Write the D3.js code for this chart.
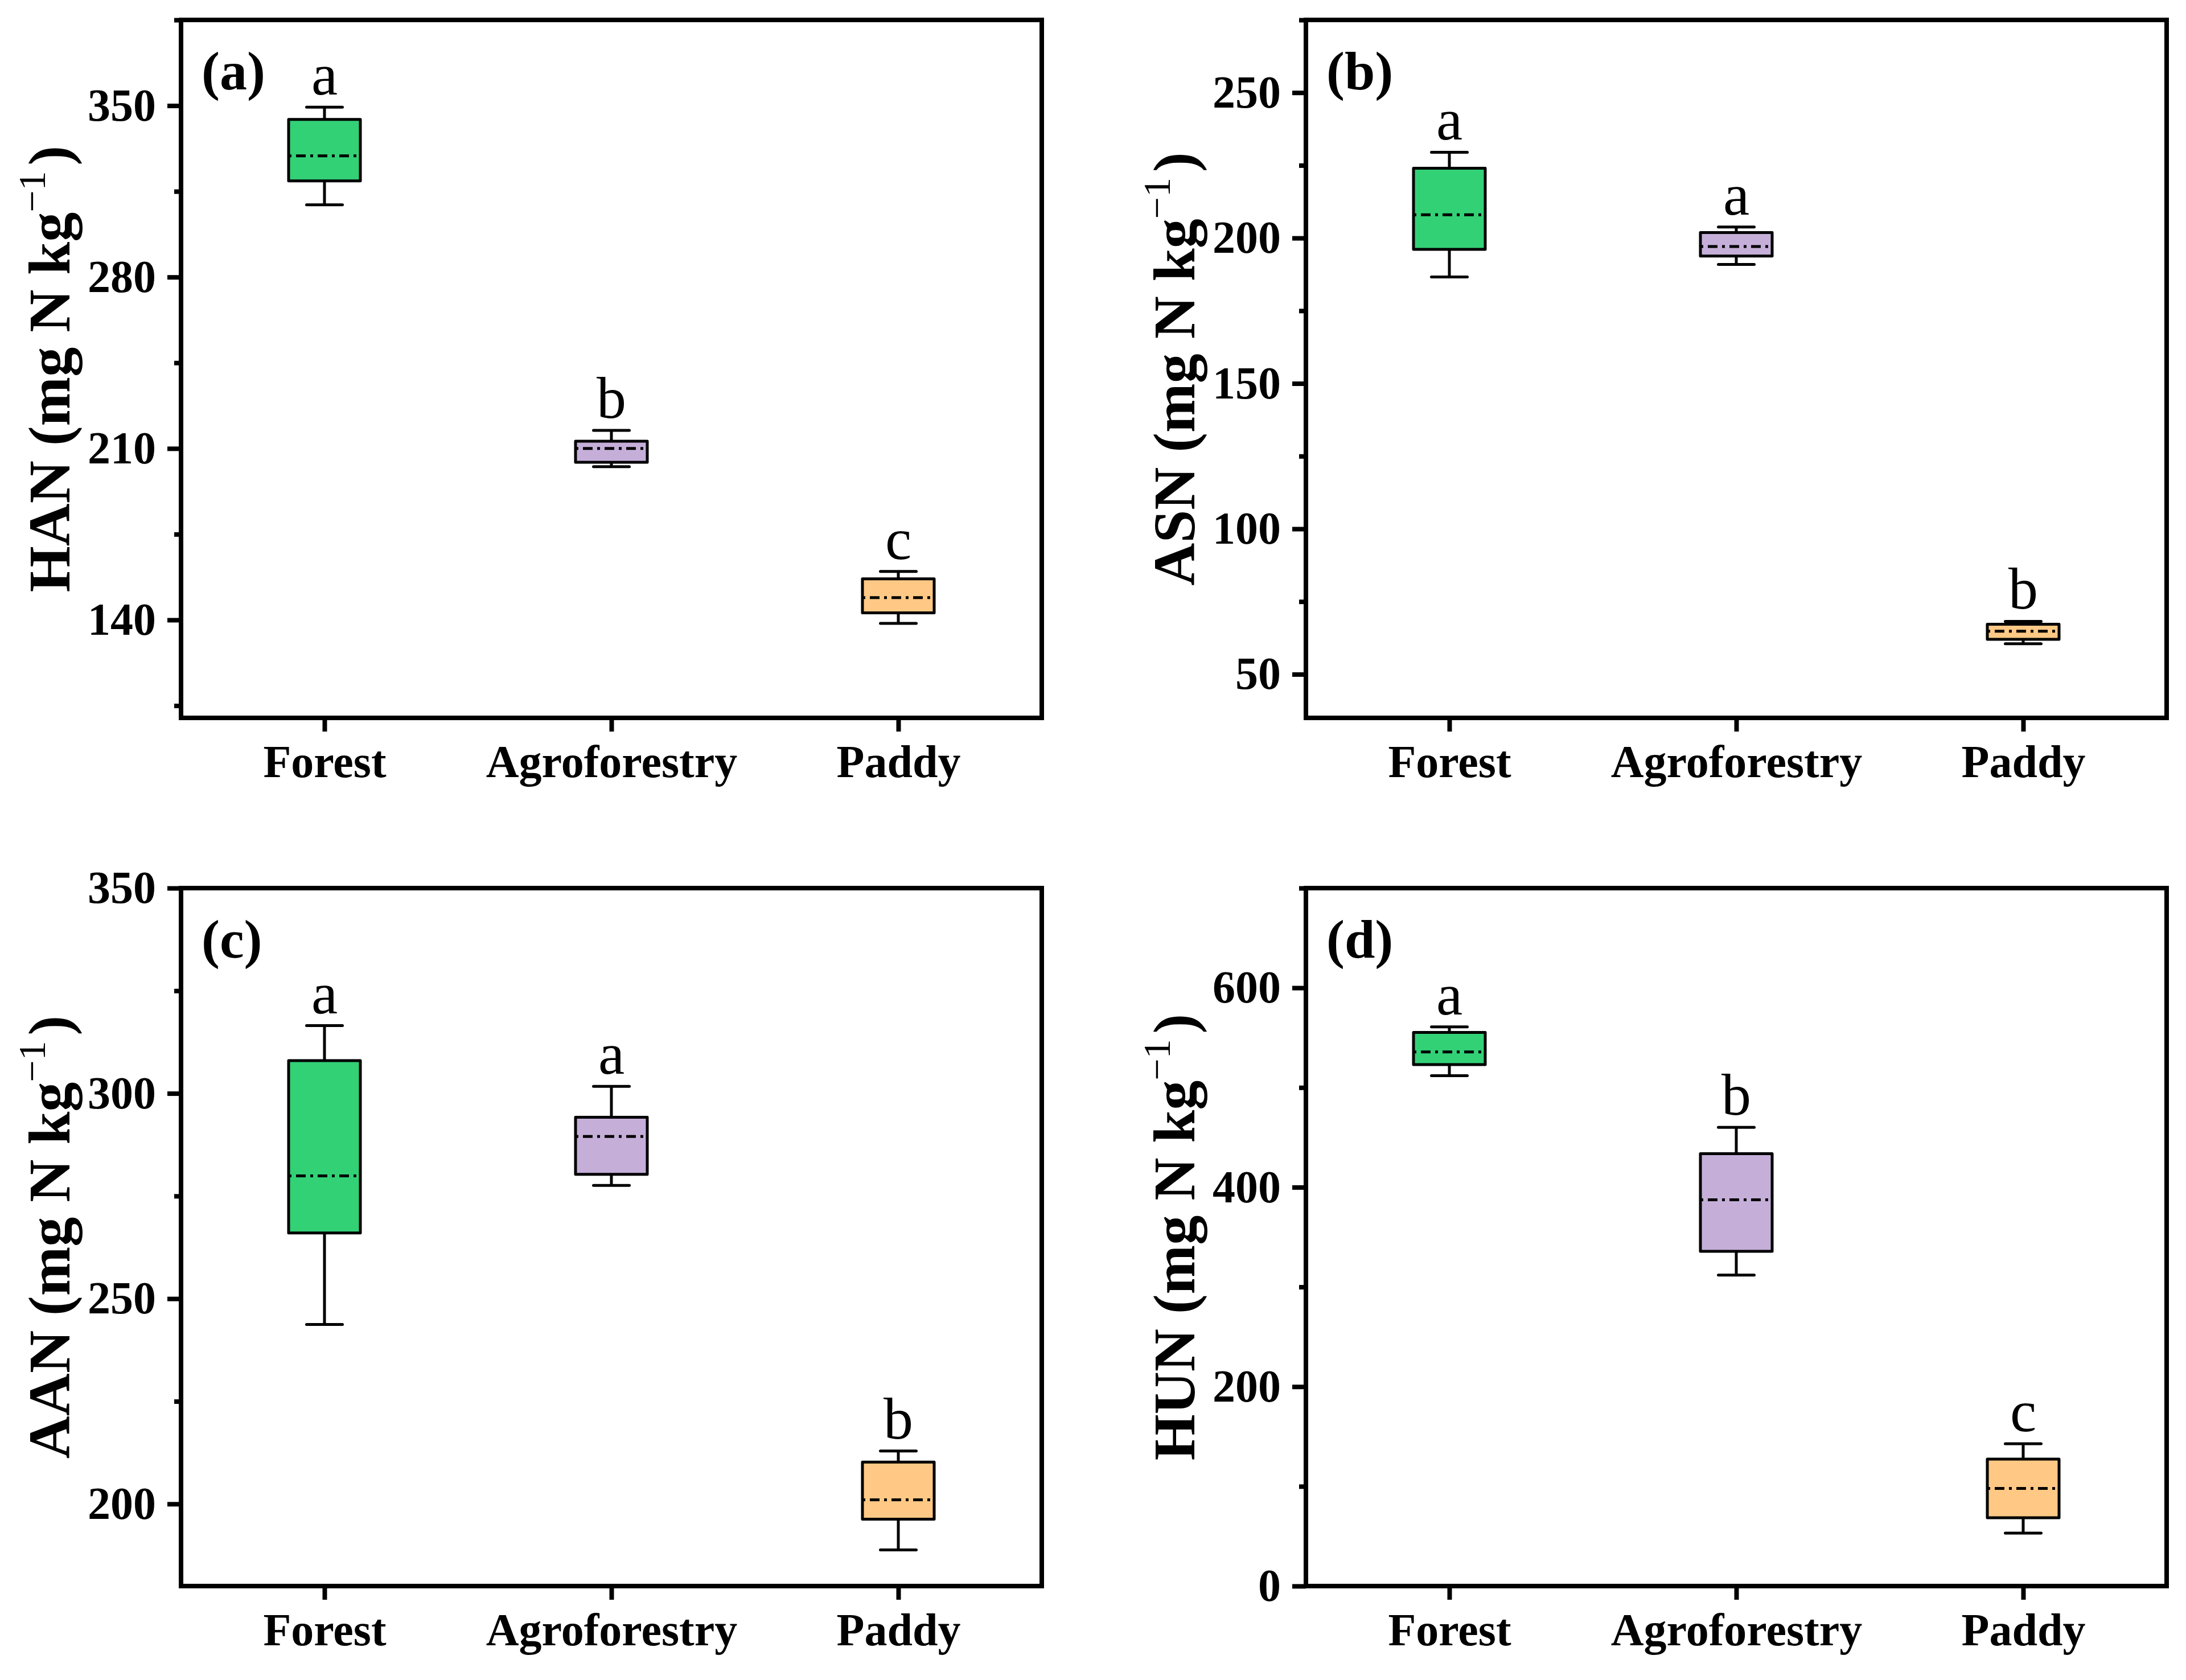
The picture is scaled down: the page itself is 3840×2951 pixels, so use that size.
<!DOCTYPE html>
<html>
<head>
<meta charset="utf-8">
<script src="https://cdn.jsdelivr.net/npm/d3@7"></script>
<style>
  body { margin: 0; background: #fff; }
  svg { display: block; }
  text { font-family: "Liberation Serif", "Times New Roman", serif; }
</style>
</head>
<body>
<div id="chart"></div>
<script>
// land-use groups along the x axis
const groups = ["Forest", "Agroforestry", "Paddy"];
const groupColors = ["#33D176", "#C5AFD9", "#FFC985"];

// five-number summaries per group: [whisker low, q1, median, q3, whisker high]
const hanStats = [[309.5, 319.3, 329.5, 344.4, 349.4], [202.6, 204.4, 210.0, 213.0, 217.4], [138.6, 142.9, 149.1, 156.8, 159.8]];
const asnStats = [[186.6, 196.1, 208.0, 224.0, 229.5], [190.9, 193.8, 197.1, 201.9, 203.8], [60.5, 62.0, 64.8, 67.2, 68.2]];
const aanStats = [[243.7, 266.0, 279.9, 308.0, 316.5], [277.6, 280.3, 289.5, 294.2, 301.7], [188.8, 196.3, 201.0, 210.2, 212.9]];
const hunStats = [[511.9, 523.0, 535.7, 555.2, 560.8], [311.9, 335.7, 387.4, 433.6, 460.1], [53.1, 68.5, 97.9, 127.3, 142.7]];

// significance letters
const hanLetters = ["a", "b", "c"];
const asnLetters = ["a", "a", "b"];
const aanLetters = ["a", "a", "b"];
const hunLetters = ["a", "b", "c"];

// axis ranges and ticks
const hanDomain = [100, 385], hanTicks = [140, 210, 280, 350], hanMinor = [105, 175, 245, 315, 385];
const asnDomain = [35, 275], asnTicks = [50, 100, 150, 200, 250], asnMinor = [75, 125, 175, 225, 275];
const aanDomain = [180, 350], aanTicks = [200, 250, 300, 350], aanMinor = [225, 275, 325];
const hunDomain = [0, 700], hunTicks = [0, 200, 400, 600], hunMinor = [100, 300, 500, 700];

const panels = [
  { tag: "(a)", name: "HAN", stats: hanStats, letters: hanLetters, domain: hanDomain, ticks: hanTicks, minor: hanMinor, left: 318, top: 35 },
  { tag: "(b)", name: "ASN", stats: asnStats, letters: asnLetters, domain: asnDomain, ticks: asnTicks, minor: asnMinor, left: 2294, top: 35 },
  { tag: "(c)", name: "AAN", stats: aanStats, letters: aanLetters, domain: aanDomain, ticks: aanTicks, minor: aanMinor, left: 318, top: 1560 },
  { tag: "(d)", name: "HUN", stats: hunStats, letters: hunLetters, domain: hunDomain, ticks: hunTicks, minor: hunMinor, left: 2294, top: 1560 }
];

const W = 3840, H = 2951;
const pw = 1512, ph = 1226;
const lineW = 8;

const svg = d3.select("#chart")
  .append("svg")
  .attr("width", W)
  .attr("height", H);

svg.append("rect")
  .attr("width", W)
  .attr("height", H)
  .attr("fill", "#fff");

panels.forEach(p => drawPanel(p));

function drawPanel(p) {
  const g = svg.append("g")
    .attr("transform", `translate(${p.left},${p.top})`);

  const x = d3.scalePoint()
    .domain(groups)
    .range([0, pw])
    .padding(0.5);
  const y = d3.scaleLinear()
    .domain(p.domain)
    .range([ph, 0]);

  const boxW = pw / 12;

  // minor ticks
  const minorAxis = g.append("g")
    .call(d3.axisLeft(y).tickValues(p.minor).tickSize(12).tickSizeOuter(0).tickFormat(""));
  // major ticks
  const yAxis = g.append("g")
    .call(d3.axisLeft(y).tickValues(p.ticks).tickSize(24).tickSizeOuter(0).tickPadding(20));
  const xAxis = g.append("g")
    .attr("transform", `translate(0,${ph})`)
    .call(d3.axisBottom(x).tickSize(24).tickSizeOuter(0));

  [minorAxis, yAxis, xAxis].forEach(a => {
    a.select(".domain").remove();
    a.selectAll(".tick line")
      .attr("stroke", "#000")
      .attr("stroke-width", lineW);
    a.selectAll(".tick text")
      .attr("fill", "#000")
      .attr("font-size", 80)
      .attr("font-weight", "bold")
      .attr("font-family", "'Liberation Serif', 'Times New Roman', serif");
  });
  xAxis.selectAll(".tick text")
    .attr("y", 104)
    .attr("dy", 0);

  // frame
  g.append("rect")
    .attr("width", pw)
    .attr("height", ph)
    .attr("fill", "none")
    .attr("stroke", "#000")
    .attr("stroke-width", lineW);

  // boxes
  const box = g.append("g")
    .selectAll("g")
    .data(p.stats)
    .enter().append("g")
    .attr("transform", (d, i) => `translate(${x(groups[i])},0)`);

  box.append("line")
    .attr("x1", 0).attr("x2", 0)
    .attr("y1", d => y(d[4])).attr("y2", d => y(d[3]))
    .attr("stroke", "#000").attr("stroke-width", 5);
  box.append("line")
    .attr("x1", 0).attr("x2", 0)
    .attr("y1", d => y(d[1])).attr("y2", d => y(d[0]))
    .attr("stroke", "#000").attr("stroke-width", 5);
  box.append("line")
    .attr("x1", -boxW / 4).attr("x2", boxW / 4)
    .attr("y1", d => y(d[4])).attr("y2", d => y(d[4]))
    .attr("stroke", "#000").attr("stroke-width", 5)
    .attr("stroke-linecap", "round");
  box.append("line")
    .attr("x1", -boxW / 4).attr("x2", boxW / 4)
    .attr("y1", d => y(d[0])).attr("y2", d => y(d[0]))
    .attr("stroke", "#000").attr("stroke-width", 5)
    .attr("stroke-linecap", "round");
  box.append("rect")
    .attr("x", -boxW / 2)
    .attr("width", boxW)
    .attr("y", d => y(d[3]))
    .attr("height", d => y(d[1]) - y(d[3]))
    .attr("fill", (d, i) => groupColors[i])
    .attr("stroke", "#000")
    .attr("stroke-width", 5)
    .attr("stroke-linejoin", "round");
  box.append("line")
    .attr("x1", -boxW / 2).attr("x2", boxW / 2)
    .attr("y1", d => y(d[2])).attr("y2", d => y(d[2]))
    .attr("stroke", "#000").attr("stroke-width", 5)
    .attr("stroke-dasharray", "5,8,17,8");

  // significance letters
  box.append("text")
    .attr("y", d => y(d[4]) - 22)
    .attr("text-anchor", "middle")
    .attr("font-size", 104)
    .text((d, i) => p.letters[i]);

  // panel tag
  g.append("text")
    .attr("x", 36)
    .attr("y", 122)
    .attr("font-size", 96)
    .attr("font-weight", "bold")
    .text(p.tag);

  // y axis title
  const title = g.append("text")
    .attr("transform", `translate(-196,${ph / 2}) rotate(-90)`)
    .attr("text-anchor", "middle")
    .attr("font-size", 104)
    .attr("font-weight", "bold");
  title.append("tspan").text(`${p.name} (mg N kg`);
  title.append("tspan")
    .attr("font-size", 68)
    .attr("font-weight", "normal")
    .attr("dy", -43)
    .text("\u22121");
  title.append("tspan")
    .attr("dy", 43)
    .attr("dx", 10)
    .text(")");
}
</script>
</body>
</html>
